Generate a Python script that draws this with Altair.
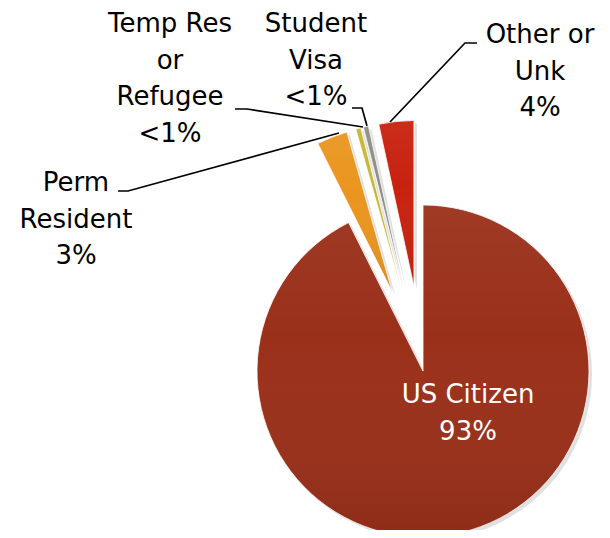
import math
import altair as alt
import pandas as pd

# ---- data ----
categories = ["US Citizen", "Perm Resident", "Temp Res or Refugee", "Student Visa", "Other or Unk"]
shares = [92.6, 3.0, 0.5, 0.5, 3.4]
label_texts = ["US Citizen\n93%", "Perm\nResident\n3%", "Temp Res\nor\nRefugee\n<1%", "Student\nVisa\n<1%", "Other or\nUnk\n4%"]
colors = ["#9A301A", "#EA951F", "#C6B636", "#8E8E86", "#C8220F"]

# ---- layout (chart-space pixels) ----
W, H = 594, 522
CX, CY, R = 415, 363, 166
EXPLODE = 85
FONT = "DejaVu Sans"
FS = 26
LH = 36.5

df = pd.DataFrame({"category": categories, "value": shares, "order": list(range(len(categories)))})

label_pos = {
    "US Citizen": (460, 395, "white"),
    "Perm Resident": (68, 183, "black"),
    "Temp Res or Refugee": (162, 24, "black"),
    "Student Visa": (308, 24, "black"),
    "Other or Unk": (532, 35, "black"),
}
lab_df = pd.DataFrame({
    "category": categories,
    "text": label_texts,
    "lx": [label_pos[c][0] for c in categories],
    "ly": [label_pos[c][1] for c in categories],
    "tc": [label_pos[c][2] for c in categories],
})

leaders = {
    "Other or Unk": [(382, 114), (457, 35), (469, 35)],
    "Student Visa": [(344, 100), (354, 100), (359, 118)],
    "Temp Res or Refugee": [(227, 101), (239, 101), (355, 119)],
    "Perm Resident": [(110, 183), (120, 183), (331, 125)],
}
rows = []
for k, pts in leaders.items():
    for i, (x, y) in enumerate(pts):
        rows.append({"leader": k, "i": i, "x": x, "y": y})
lead_df = pd.DataFrame(rows)

color_scale = alt.Scale(domain=categories, range=colors)

base = (
    alt.Chart(df)
    .transform_window(cum="sum(value)", sort=[alt.SortField("order")], frame=[None, 0])
    .transform_calculate(start="datum.cum - datum.value", end="datum.cum")
    .transform_calculate(
        mid="(datum.start + datum.value / 2) / 100 * 2 * PI",
        boom=f"datum.category == 'US Citizen' ? 0 : {EXPLODE}",
    )
    .transform_calculate(
        cx=f"{CX} + datum.boom * sin(datum.mid)",
        cy=f"{CY} - datum.boom * cos(datum.mid)",
    )
)
pos = dict(
    theta=alt.Theta("start:Q", stack=None, scale=alt.Scale(domain=[0, 100], range=[0, 2 * math.pi])),
    theta2="end:Q",
)

shadow = base.mark_arc(radius=R, color="#000000", opacity=0.12).encode(
    x=alt.X("sx:Q", scale=None), y=alt.Y("sy:Q", scale=None), **pos
).transform_calculate(sx="datum.cx + 3", sy="datum.cy + 3")

arcs = base.mark_arc(radius=R, stroke="white", strokeWidth=0.8).encode(
    x=alt.X("cx:Q", scale=None),
    y=alt.Y("cy:Q", scale=None),
    color=alt.Color("category:N", scale=color_scale, legend=None),
    **pos,
)

sheen = base.mark_arc(
    radius=R,
    color=alt.LinearGradient(
        gradient="linear", x1=0, y1=0, x2=0, y2=1,
        stops=[
            alt.GradientStop(color="rgba(255,255,255,0.05)", offset=0),
            alt.GradientStop(color="rgba(255,255,255,0.0)", offset=0.4),
            alt.GradientStop(color="rgba(0,0,0,0.08)", offset=1),
        ],
    ),
).encode(x=alt.X("cx:Q", scale=None), y=alt.Y("cy:Q", scale=None), **pos)

lines = (
    alt.Chart(lead_df)
    .mark_line(color="black", strokeWidth=1.7)
    .encode(
        x=alt.X("x:Q", scale=None),
        y=alt.Y("y:Q", scale=None),
        detail="leader:N",
        order="i:Q",
    )
)

labels = (
    alt.Chart(lab_df)
    .transform_calculate(lines="split(datum.text, '\\n')")
    .mark_text(font=FONT, fontSize=FS, align="center", baseline="alphabetic", lineHeight=LH)
    .encode(
        x=alt.X("lx:Q", scale=None),
        y=alt.Y("ly:Q", scale=None),
        text=alt.Text("lines:N"),
        color=alt.Color("tc:N", scale=None),
    )
)

chart = (
    alt.layer(shadow, arcs, sheen, lines, labels)
    .properties(width=W, height=H, padding=0, autosize="none")
    .configure_view(stroke=None)
)
chart.save("out.html", embed_options={"renderer": "svg", "actions": False})
